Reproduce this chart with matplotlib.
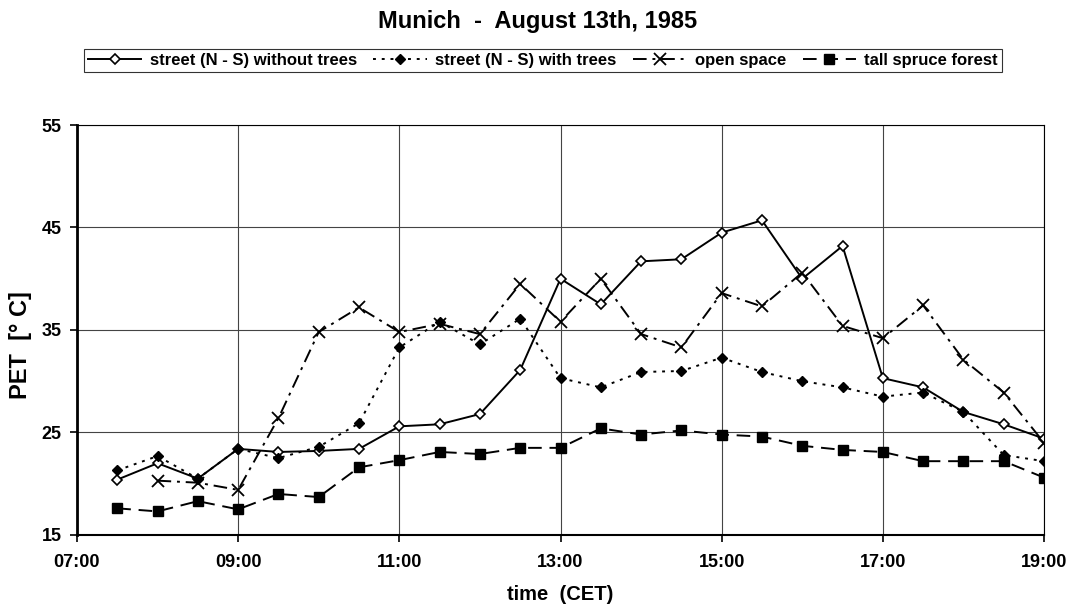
import numpy as np
import matplotlib
matplotlib.use('Agg')
import matplotlib.pyplot as plt
from matplotlib.ticker import FixedLocator

plt.rcParams['font.family'] = ['Liberation Sans', 'DejaVu Sans']

# time of measurement (CET)
times = ['07:30', '08:00', '08:30', '09:00', '09:30', '10:00', '10:30', '11:00',
         '11:30', '12:00', '12:30', '13:00', '13:30', '14:00', '14:30', '15:00',
         '15:30', '16:00', '16:30', '17:00', '17:30', '18:00', '18:30', '19:00']

# PET values [deg C]
no_trees = [20.4, 22.0, 20.5, 23.4, 23.1, 23.2, 23.4, 25.6, 25.8, 26.8, 31.1, 40.0,
            37.5, 41.7, 41.9, 44.5, 45.7, 40.0, 43.2, 30.3, 29.4, 27.0, 25.8, 24.4]
with_trees = [21.3, 22.7, 20.5, 23.4, 22.5, 23.6, 25.9, 33.3, 35.8, 33.6, 36.1, 30.3,
              29.4, 30.9, 31.0, 32.3, 30.9, 30.0, 29.4, 28.5, 28.9, 27.0, 22.8, 22.2]
open_space = [np.nan, 20.3, 20.1, 19.4, 26.4, 34.8, 37.2, 34.8, 35.6, 34.6, 39.5, 35.8,
              40.0, 34.6, 33.3, 38.6, 37.3, 40.6, 35.4, 34.2, 37.4, 32.1, 28.9, 24.0]
forest = [17.6, 17.3, 18.3, 17.5, 19.0, 18.7, 21.6, 22.3, 23.1, 22.9, 23.5, 23.5,
          25.4, 24.8, 25.2, 24.8, 24.6, 23.7, 23.3, 23.1, 22.2, 22.2, 22.2, 20.6]

xticks = ['07:00', '09:00', '11:00', '13:00', '15:00', '17:00', '19:00']
yticks = [15, 25, 35, 45, 55]

def to_h(s):
    h, m = s.split(':')
    return int(h) + int(m) / 60.0

x = [to_h(t) for t in times]

fig = plt.figure(figsize=(10.75, 6.08), dpi=100)
ax = fig.add_axes([0.0716, 0.1201, 0.8996, 0.6743])

ax.plot(x, no_trees, color='black', lw=1.4, ls='-', marker='D', ms=5,
        mfc='white', mec='black', mew=1.2, label='street (N - S) without trees')
ax.plot(x, with_trees, color='black', lw=1.4, ls=(0, (1.5, 3)), marker='D', ms=5,
        mfc='black', mec='black', label='street (N - S) with trees')
ax.plot(x, open_space, color='black', lw=1.4, ls=(0, (7, 3, 1.5, 3)), marker='x', ms=8,
        mew=1.3, label='open space')
ax.plot(x, forest, color='black', lw=1.4, ls=(0, (7, 4)), marker='s', ms=6.5,
        mfc='black', mec='black', label='tall spruce forest')

ax.set_xlim(7, 19)
ax.set_ylim(15, 55)
ax.xaxis.set_major_locator(FixedLocator([to_h(t) for t in xticks]))
ax.set_xticklabels(xticks, fontsize=13, fontweight='bold')
ax.set_yticks(yticks)
ax.set_yticklabels([str(v) for v in yticks], fontsize=13, fontweight='bold')
ax.grid(True, color='#444444', lw=0.8)
ax.tick_params(direction='out', length=5, width=1.2, pad=6)
ax.tick_params(axis='x', pad=9)
ax.spines['left'].set_linewidth(2)
for s in ['top', 'right', 'bottom']:
    ax.spines[s].set_linewidth(0.8)
ax.spines['bottom'].set_linewidth(1.5)

ax.set_xlabel('time  (CET)', fontsize=14.5, fontweight='bold', labelpad=10)
ax.set_ylabel('PET  [° C]', fontsize=17, fontweight='bold')
ax.yaxis.set_label_coords(-0.047, 0.463)

fig.text(0.5, 0.965, 'Munich  -  August 13th, 1985', ha='center', va='center',
         fontsize=17, fontweight='bold')

leg = fig.legend(loc='center', bbox_to_anchor=(0.505, 0.9), ncol=4, frameon=True,
                 fancybox=False, edgecolor='black', handlelength=3.2,
                 handletextpad=0.5, columnspacing=1.0, borderpad=0.25,
                 prop={'size': 12, 'weight': 'bold'})
leg.get_frame().set_linewidth(0.8)

fig.savefig('out.png', dpi=100)
